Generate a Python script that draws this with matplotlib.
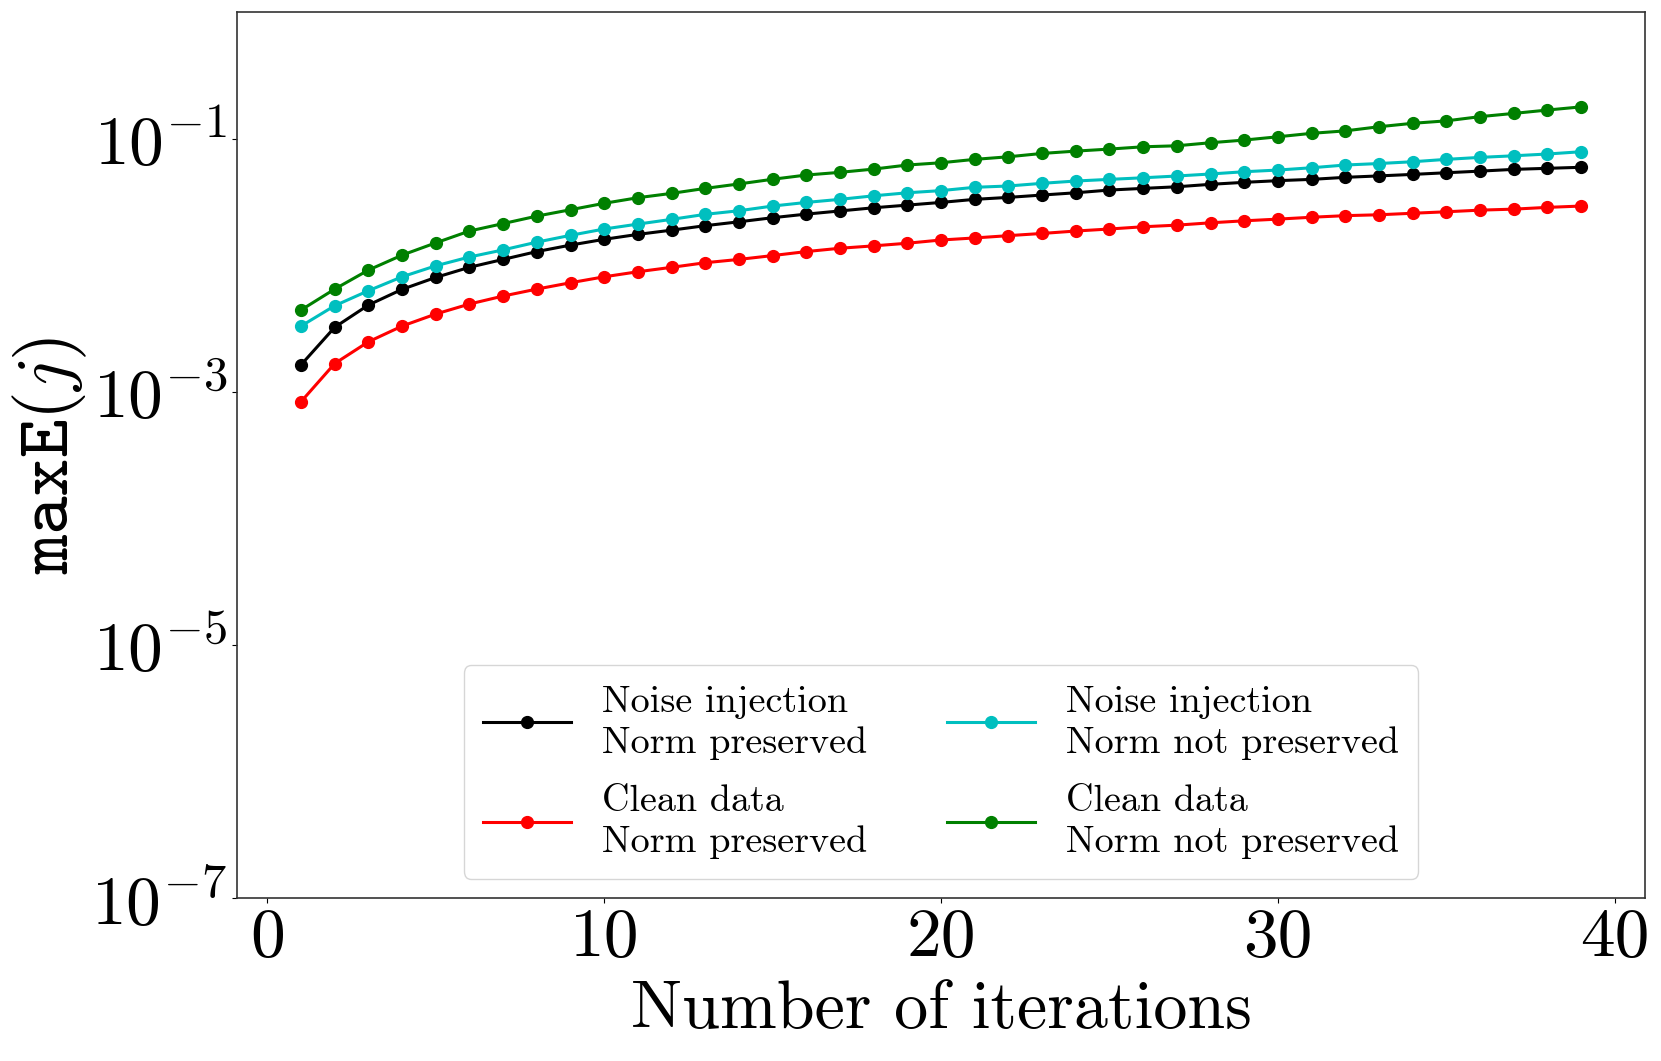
import matplotlib
matplotlib.use("Agg")
import matplotlib.pyplot as plt

# --- fonts: computer modern look ---
plt.rcParams['mathtext.fontset'] = 'cm'
plt.rcParams['font.family'] = 'serif'
plt.rcParams['font.serif'] = ['cmr10']
plt.rcParams['axes.unicode_minus'] = True

# --- data ---
iters = list(range(1, 40))

noise_np = [1.63e-3, 3.23e-3, 4.84e-3, 6.44e-3, 8.0e-3, 9.62e-3, 1.11e-2, 1.28e-2,
            1.44e-2, 1.60e-2, 1.75e-2, 1.89e-2, 2.05e-2, 2.20e-2, 2.37e-2, 2.53e-2,
            2.68e-2, 2.84e-2, 2.98e-2, 3.13e-2, 3.31e-2, 3.43e-2, 3.58e-2, 3.73e-2,
            3.92e-2, 4.04e-2, 4.16e-2, 4.35e-2, 4.51e-2, 4.65e-2, 4.76e-2, 4.94e-2,
            5.07e-2, 5.21e-2, 5.37e-2, 5.53e-2, 5.71e-2, 5.82e-2, 5.93e-2]

clean_np = [8.34e-4, 1.67e-3, 2.48e-3, 3.30e-3, 4.11e-3, 4.93e-3, 5.70e-3, 6.47e-3,
            7.26e-3, 8.09e-3, 8.87e-3, 9.61e-3, 1.045e-2, 1.11e-2, 1.19e-2, 1.28e-2,
            1.36e-2, 1.42e-2, 1.49e-2, 1.58e-2, 1.64e-2, 1.71e-2, 1.78e-2, 1.86e-2,
            1.93e-2, 2.01e-2, 2.07e-2, 2.16e-2, 2.24e-2, 2.31e-2, 2.39e-2, 2.46e-2,
            2.50e-2, 2.57e-2, 2.64e-2, 2.72e-2, 2.77e-2, 2.86e-2, 2.93e-2]

noise_nnp = [3.30e-3, 4.78e-3, 6.28e-3, 8.09e-3, 9.88e-3, 1.16e-2, 1.32e-2, 1.52e-2,
             1.72e-2, 1.93e-2, 2.11e-2, 2.30e-2, 2.52e-2, 2.69e-2, 2.93e-2, 3.13e-2,
             3.31e-2, 3.53e-2, 3.73e-2, 3.88e-2, 4.12e-2, 4.22e-2, 4.43e-2, 4.62e-2,
             4.76e-2, 4.90e-2, 5.06e-2, 5.25e-2, 5.47e-2, 5.64e-2, 5.88e-2, 6.18e-2,
             6.35e-2, 6.56e-2, 6.85e-2, 7.10e-2, 7.31e-2, 7.55e-2, 7.87e-2]

clean_nnp = [4.42e-3, 6.47e-3, 9.14e-3, 1.20e-2, 1.50e-2, 1.86e-2, 2.13e-2, 2.44e-2,
             2.74e-2, 3.08e-2, 3.41e-2, 3.69e-2, 4.04e-2, 4.38e-2, 4.77e-2, 5.15e-2,
             5.41e-2, 5.74e-2, 6.18e-2, 6.44e-2, 6.85e-2, 7.18e-2, 7.63e-2, 7.96e-2,
             8.26e-2, 8.61e-2, 8.77e-2, 9.27e-2, 9.73e-2, 0.1033, 0.110, 0.115,
             0.124, 0.132, 0.138, 0.149, 0.158, 0.168, 0.178]

yticks = [1e-7, 1e-5, 1e-3, 1e-1]

# --- plot ---
fig = plt.figure(figsize=(16.61, 10.61), dpi=100)
ax = fig.add_axes([0.1427, 0.1536, 0.8477, 0.8351])

kw = dict(marker='o', markersize=8.5, linewidth=2.2)
ax.plot(iters, noise_np, color='k', label='Noise injection\nNorm preserved', **kw)
ax.plot(iters, clean_np, color='r', label='Clean data\nNorm preserved', **kw)
ax.plot(iters, noise_nnp, color='c', label='Noise injection\nNorm not preserved', **kw)
ax.plot(iters, clean_nnp, color='g', label='Clean data\nNorm not preserved', **kw)

ax.set_yscale('log')
ax.set_ylim(1e-7, 1)
ax.set_yticks(yticks)
ax.minorticks_off()
ax.set_xticks([0, 10, 20, 30, 40])

ax.tick_params(labelsize=50)
for sp in ax.spines.values():
    sp.set_color('#333333')
    sp.set_linewidth(1.2)

ax.set_xlabel('Number of iterations', fontsize=49, labelpad=8)
ax.set_ylabel(r'$\mathtt{maxE}(j)$', fontsize=53, labelpad=2)

leg = ax.legend(loc='lower center', ncol=2, fontsize=27.5, borderpad=0.52,
                handlelength=2.3, columnspacing=2.1, labelspacing=0.65)
for t in leg.get_texts():
    t.set_linespacing(1.28)

fig.savefig('out.png', dpi=100)
